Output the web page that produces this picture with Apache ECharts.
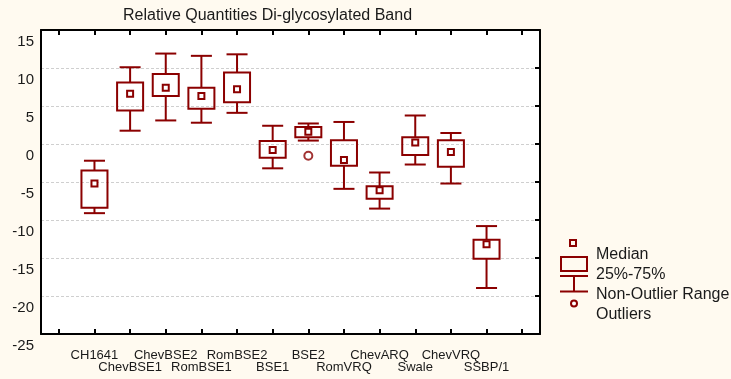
<!DOCTYPE html>
<html>
<head>
<meta charset="utf-8">
<script src="https://cdn.jsdelivr.net/npm/echarts@6/dist/echarts.min.js"></script>
<style>
  html, body { margin: 0; padding: 0; background: #FFFAF0; }
  #chart { width: 731px; height: 379px; }
</style>
</head>
<body>
<div id="chart"></div>
<script>
// box plot values
const categories = ['CH1641', 'ChevBSE1', 'ChevBSE2', 'RomBSE1', 'RomBSE2', 'BSE1',
                    'BSE2', 'RomVRQ', 'ChevARQ', 'Swale', 'ChevVRQ', 'SSBP/1'];
const whiskerLow  = [-9.1, 1.75, 3.1, 2.8, 4.1, -3.2, 0.45, -5.9, -8.5, -2.7, -5.2, -18.95];
const q1          = [-8.4, 4.4, 6.3, 4.65, 5.5, -1.8, 0.9, -2.85, -7.2, -1.45, -3.0, -15.1];
const median      = [-5.2, 6.6, 7.4, 6.3, 7.2, -0.8, 1.6, -2.1, -6.1, 0.2, -1.05, -13.2];
const q3          = [-3.5, 8.1, 9.2, 7.4, 9.4, 0.4, 2.25, 0.5, -5.55, 0.9, 0.5, -12.6];
const whiskerHigh = [-2.2, 10.1, 11.9, 11.6, 11.8, 2.4, 2.7, 2.9, -3.75, 3.75, 1.45, -10.8];
const outlierCats = ['BSE2'];
const outlierVals = [-1.55];

const yTicks = [-25, -20, -15, -10, -5, 0, 5, 10, 15];

const RED = '#8B0000';
const TEXT = '#1a1a1a';
const FONT = '"Liberation Sans", Arial, sans-serif';

// empty slot at each end, like the original axis
const xCats = [''].concat(categories, ['']);

const boxData = categories.map((c, i) =>
    [i + 1, whiskerLow[i], q1[i], median[i], q3[i], whiskerHigh[i]]);

function renderBox(params, api) {
    const x = api.value(0);
    const band = api.size([1, 0])[0];
    const boxW = band * 0.73;
    const capW = band * 0.59;
    const pLow = api.coord([x, api.value(1)]);
    const pQ1 = api.coord([x, api.value(2)]);
    const pMed = api.coord([x, api.value(3)]);
    const pQ3 = api.coord([x, api.value(4)]);
    const pHigh = api.coord([x, api.value(5)]);
    const cx = pMed[0];
    const style = { stroke: RED, lineWidth: 2, fill: null };
    return {
        type: 'group',
        children: [
            { type: 'line', shape: { x1: cx, y1: pQ3[1], x2: cx, y2: pHigh[1] }, style: style },
            { type: 'line', shape: { x1: cx - capW / 2, y1: pHigh[1], x2: cx + capW / 2, y2: pHigh[1] }, style: style },
            { type: 'line', shape: { x1: cx, y1: pQ1[1], x2: cx, y2: pLow[1] }, style: style },
            { type: 'line', shape: { x1: cx - capW / 2, y1: pLow[1], x2: cx + capW / 2, y2: pLow[1] }, style: style },
            { type: 'rect', shape: { x: cx - boxW / 2, y: pQ3[1], width: boxW, height: pQ1[1] - pQ3[1] }, style: style },
            { type: 'rect', shape: { x: cx - 3, y: pMed[1] - 3, width: 6, height: 6 }, style: { stroke: RED, lineWidth: 2, fill: '#fff' } }
        ]
    };
}

const chart = echarts.init(document.getElementById('chart'));

const tickStyle = { show: true, inside: true, length: 5, interval: 0, alignWithLabel: true, lineStyle: { color: '#000', width: 2 } };

const option = {
    backgroundColor: '#FFFAF0',
    animation: false,
    title: {
        text: 'Relative Quantities Di-glycosylated Band',
        left: 118,
        top: 3,
        textStyle: { fontFamily: FONT, fontSize: 16, fontWeight: 'normal', color: TEXT }
    },
    grid: {
        left: 41, right: 191, top: 30, bottom: 45,
        show: true, backgroundColor: '#fff', borderWidth: 0
    },
    xAxis: [
        {
            type: 'category',
            data: xCats,
            boundaryGap: true,
            axisLine: { onZero: false, lineStyle: { color: '#000', width: 2 } },
            axisTick: tickStyle,
            axisLabel: {
                interval: 0,
                margin: 15,
                fontFamily: FONT, fontSize: 13, color: TEXT, lineHeight: 12,
                verticalAlign: 'top',
                formatter: function (v, idx) {
                    if (!v) return '';
                    return idx % 2 === 1 ? v + '\n ' : ' \n' + v;
                }
            },
            splitLine: { show: false }
        },
        {
            type: 'category',
            data: xCats,
            position: 'top',
            boundaryGap: true,
            axisLine: { onZero: false, lineStyle: { color: '#000', width: 2 } },
            axisTick: tickStyle,
            axisLabel: { show: false },
            splitLine: { show: false }
        }
    ],
    yAxis: [
        {
            type: 'value',
            min: yTicks[0], max: yTicks[yTicks.length - 1], interval: 5,
            axisLine: { show: true, onZero: false, lineStyle: { color: '#000', width: 2 } },
            axisTick: { show: false },
            axisLabel: {
                margin: 7,
                fontFamily: FONT, fontSize: 15, color: TEXT,
                verticalAlign: 'top',
                lineHeight: 23
            },
            splitLine: { show: true, lineStyle: { color: '#cfcfcf', type: [3, 2], width: 1 } }
        },
        {
            type: 'value',
            position: 'right',
            min: yTicks[0], max: yTicks[yTicks.length - 1], interval: 5,
            axisLine: { show: true, onZero: false, lineStyle: { color: '#000', width: 2 } },
            axisTick: { show: true, inside: true, length: 5, lineStyle: { color: '#000', width: 2 } },
            axisLabel: { show: false },
            splitLine: { show: false }
        }
    ],
    series: [
        {
            type: 'custom',
            renderItem: renderBox,
            data: boxData,
            encode: { x: 0, y: [1, 2, 3, 4, 5] },
            z: 5
        },
        {
            type: 'scatter',
            data: outlierCats.map((c, i) => [c, outlierVals[i]]),
            symbol: 'circle',
            symbolSize: 8,
            itemStyle: { color: '#fff', borderColor: RED, borderWidth: 2 },
            z: 6
        }
    ],
    graphic: [
        // legend swatch
        { type: 'rect', shape: { x: 570, y: 240, width: 6, height: 6 }, style: { stroke: RED, lineWidth: 2, fill: null } },
        { type: 'rect', shape: { x: 561, y: 257, width: 26, height: 14 }, style: { stroke: RED, lineWidth: 2, fill: null } },
        { type: 'line', shape: { x1: 560, y1: 276, x2: 588, y2: 276 }, style: { stroke: RED, lineWidth: 2 } },
        { type: 'line', shape: { x1: 574, y1: 276, x2: 574, y2: 291.5 }, style: { stroke: RED, lineWidth: 2 } },
        { type: 'line', shape: { x1: 560, y1: 291.5, x2: 588, y2: 291.5 }, style: { stroke: RED, lineWidth: 2 } },
        { type: 'circle', shape: { cx: 574, cy: 303.5, r: 3 }, style: { stroke: RED, lineWidth: 2, fill: '#fff' } },
        { type: 'text', x: 596, y: 255, style: { text: 'Median', font: '16px ' + FONT, fill: TEXT, verticalAlign: 'middle' } },
        { type: 'text', x: 596, y: 275, style: { text: '25%-75%', font: '16px ' + FONT, fill: TEXT, verticalAlign: 'middle' } },
        { type: 'text', x: 596, y: 295, style: { text: 'Non-Outlier Range', font: '16px ' + FONT, fill: TEXT, verticalAlign: 'middle' } },
        { type: 'text', x: 596, y: 315, style: { text: 'Outliers', font: '16px ' + FONT, fill: TEXT, verticalAlign: 'middle' } }
    ]
};

chart.setOption(option);
</script>
</body>
</html>
